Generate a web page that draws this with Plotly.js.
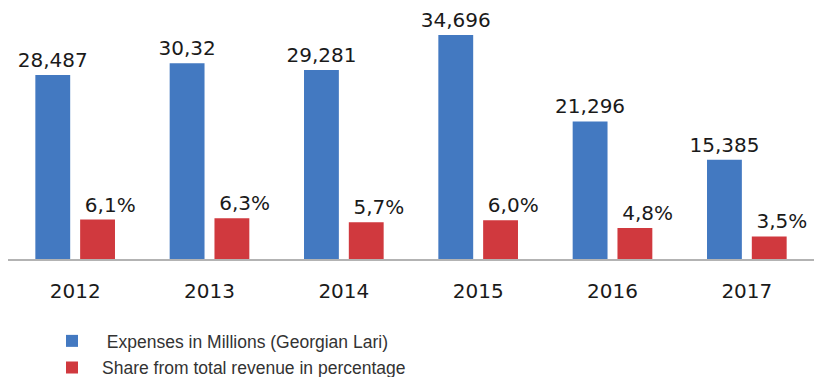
<!DOCTYPE html>
<html>
<head>
<meta charset="utf-8">
<script src="https://cdn.plot.ly/plotly-3.0.1.min.js"></script>
<style>html,body{margin:0;padding:0;background:#fff;}#chart{width:814px;height:377px;}</style>
</head>
<body>
<div id="chart"></div>
<script>
const years = ["2012", "2013", "2014", "2015", "2016", "2017"];
const expenses = [28.487, 30.32, 29.281, 34.696, 21.296, 15.385];
const expenseLabels = ["28,487", "30,32", "29,281", "34,696", "21,296", "15,385"];
const shares = [6.1, 6.3, 5.7, 6.0, 4.8, 3.5];
const shareLabels = ["6,1%", "6,3%", "5,7%", "6,0%", "4,8%", "3,5%"];
const expenseName = "\u00a0Expenses in Millions (Georgian Lari)";
const shareName = "Share from total revenue in percentage";

const labelFont = {family: "DejaVu Sans", size: 20, color: "#1a1a1a"};

const traces = [
  {
    type: "bar", x: years, y: expenses, name: expenseName,
    text: expenseLabels, textposition: "outside", textfont: labelFont, constraintext: "none",
    cliponaxis: false, marker: {color: "#4379c1"}, legend: "legend",
    hoverinfo: "skip"
  },
  {
    type: "bar", x: years, y: shares, name: shareName,
    text: shareLabels, texttemplate: "\u00a0\u00a0\u00a0\u00a0%{text}",
    textposition: "outside", textfont: labelFont, constraintext: "none",
    cliponaxis: false, marker: {color: "#d0393e"}, legend: "legend2",
    hoverinfo: "skip"
  }
];

const legendBase = {
  xref: "container", yref: "container",
  xanchor: "left", yanchor: "middle", bgcolor: "rgba(0,0,0,0)",
  font: {family: "Liberation Sans", size: 17.5, color: "#333"},
  itemwidth: 50
};

const layout = {
  width: 814, height: 377,
  margin: {l: 8, r: 0, t: 0, b: 118, autoexpand: false},
  paper_bgcolor: "#fff", plot_bgcolor: "#fff",
  barmode: "group", bargap: 0.333, bargroupgap: 0.222,
  showlegend: true,
  xaxis: {
    type: "category", showgrid: false, showline: true, linecolor: "#b3b3b3", linewidth: 1.5,
    ticks: "", tickfont: {family: "DejaVu Sans", size: 20, color: "#1a1a1a"},
    ticklabelstandoff: 13
  },
  yaxis: {range: [0, 40.1], visible: false, showgrid: false, zeroline: false},
  legend: Object.assign({}, legendBase, {x: 0.0516, y: 0.0955}),
  legend2: Object.assign({}, legendBase, {x: 0.0516, y: 0.025})
};

Plotly.newPlot("chart", traces, layout, {displayModeBar: false, staticPlot: true});
</script>
</body>
</html>
